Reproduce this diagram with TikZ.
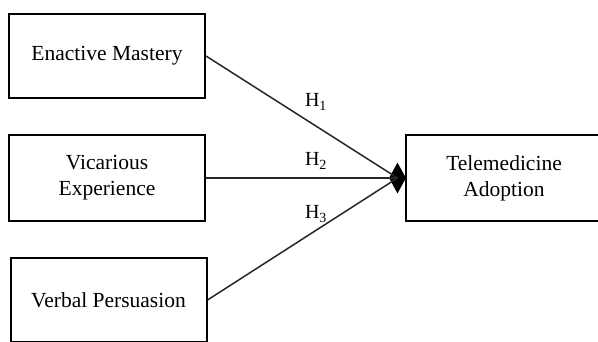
\documentclass[tikz,border=0pt]{standalone}
\usepackage{fontspec}
\setmainfont{Liberation Serif}
\usetikzlibrary{shapes.geometric}
\begin{document}
\begin{tikzpicture}[x=1pt,y=-1pt,
  box/.style={draw, line width=2pt, minimum width=196pt, inner sep=0pt, align=center,
    font=\fontsize{21.5}{26}\selectfont},
  link/.style={line width=1.5pt, draw=black!85},
  hlab/.style={font=\fontsize{20}{24}\selectfont, inner sep=0pt}]
\useasboundingbox (0,0) rectangle (598,341);
\clip (0,0) rectangle (598,341);
\node[box, minimum height=84pt] (em) at (107,56) {Enactive Mastery};
\node[box, minimum height=86pt] (ve) at (107,178) {Vicarious\\Experience};
\node[box, minimum height=84pt] (vp) at (108.5,300) {Verbal Persuasion};
\node[box, minimum height=86pt] (ta) at (504,178) {Telemedicine\\Adoption};
\node[diamond, fill=black, minimum width=17pt, minimum height=31pt, inner sep=0pt] (tip) at (397.5,178) {};
\draw[link] (em.east) -- (tip.center);
\draw[link] (ve.east) -- (tip.center);
\draw[link] (vp.east) -- (tip.center);
\node[hlab] (h1) at (316,102) {H\textsubscript{1}};
\node[hlab] (h2) at (316,161) {H\textsubscript{2}};
\node[hlab] (h3) at (316,214) {H\textsubscript{3}};
\end{tikzpicture}
\end{document}
